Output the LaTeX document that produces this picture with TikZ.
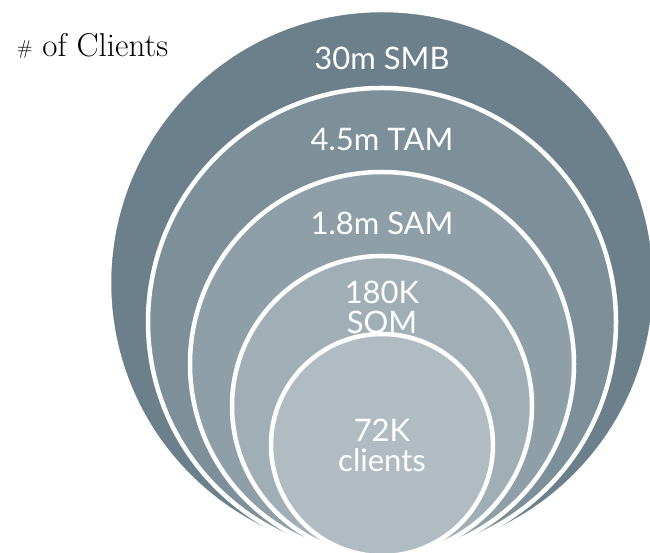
\documentclass[tikz,border=0pt]{standalone}
\usepackage{fontspec}
\usepackage{xcolor}
\newfontfamily\ringfont{Lato}
\definecolor{smbgrey}{RGB}{107,128,139}
\definecolor{tamgrey}{RGB}{125,143,152}
\definecolor{samgrey}{RGB}{142,159,167}
\definecolor{somgrey}{RGB}{160,174,181}
\definecolor{clientgrey}{RGB}{177,188,194}

\begin{document}
\begin{tikzpicture}[x=1pt, y=1pt,
  every node/.style = {inner sep=0pt, outer sep=0pt},
  ring/.style = {shape=circle, draw=white, line width=4.5pt},
  ringlabel/.style = {text=white, align=center,
    font=\ringfont\fontsize{31}{30}\selectfont}]
  \clip (0,0) rectangle (650,553);
  % nested markets, all touching at the bottom
  \node[ring, fill=smbgrey, minimum size=546pt] (smb) at (382,270) {};
  \node[ring, fill=tamgrey, minimum size=468pt] (tam) at (382,231) {};
  \node[ring, fill=samgrey, minimum size=384pt] (sam) at (382,189) {};
  \node[ring, fill=somgrey, minimum size=300pt] (som) at (382,147) {};
  \node[ring, fill=clientgrey, minimum size=222pt] (clients) at (382,108) {};
  % labels
  \node[ringlabel] (smblabel) at ([yshift=-48pt]smb.north) {30m SMB};
  \node[ringlabel] (tamlabel) at ([yshift=-52pt]tam.north) {4.5m TAM};
  \node[ringlabel] (samlabel) at ([yshift=-51pt]sam.north) {1.8m SAM};
  \node[ringlabel] (somlabel) at ([yshift=-51pt]som.north) {180K\\SOM};
  \node[ringlabel] (clientslabel) at (clients) {72K\\clients};
  \node[anchor=base west, font=\fontsize{33}{36}\selectfont] (title) at (17,496)
    {\raisebox{2pt}{\fontsize{20}{21}\selectfont\#} of Clients};
\end{tikzpicture}
\end{document}
